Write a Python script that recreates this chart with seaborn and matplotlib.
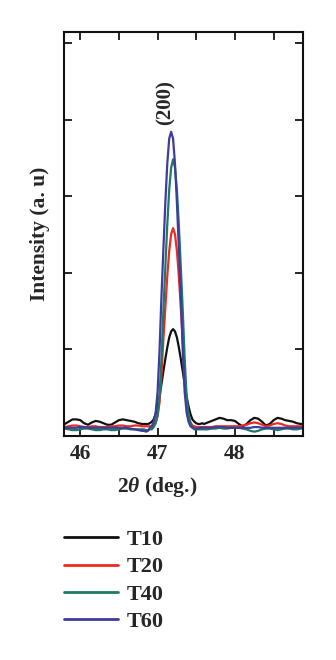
import matplotlib
matplotlib.use("Agg")
import matplotlib.pyplot as plt
from matplotlib.ticker import MultipleLocator, FuncFormatter
import seaborn as sns
import pandas as pd

# 2-theta scan positions (deg.)
two_theta = [
    45.80, 45.85, 45.90, 45.95, 46.00, 46.05, 46.10, 46.15, 46.20, 46.25, 46.30,
    46.35, 46.40, 46.45, 46.50, 46.55, 46.60, 46.65, 46.70, 46.75, 46.80,
    46.825, 46.85, 46.875, 46.90, 46.925, 46.95, 46.975, 47.00, 47.025, 47.05,
    47.075, 47.10, 47.125, 47.15, 47.175, 47.20, 47.225, 47.25, 47.275, 47.30,
    47.325, 47.35, 47.375, 47.40, 47.425, 47.45, 47.475, 47.50, 47.525, 47.55,
    47.575,
    47.60, 47.65, 47.70, 47.75, 47.80, 47.85, 47.90, 47.95, 48.00, 48.05, 48.10,
    48.15, 48.20, 48.25, 48.30, 48.35, 48.40, 48.45, 48.50, 48.55, 48.60, 48.65,
    48.70, 48.75, 48.80, 48.85, 48.90,
]

# Intensity (arbitrary units) for each sample
t10 = [
    0.02, 0.05, 0.08, 0.08, 0.07, 0.03, 0.01, 0.04, 0.06, 0.05, 0.03,
    0.01, 0.01, 0.04, 0.07, 0.08, 0.07, 0.06, 0.05, 0.03, 0.02,
    0.02, 0.02, 0.02, 0.03, 0.05, 0.08, 0.15, 0.25, 0.38, 0.54,
    0.71, 0.87, 1.02, 1.15, 1.23, 1.26, 1.23, 1.15, 1.02, 0.87,
    0.71, 0.54, 0.38, 0.25, 0.15, 0.08, 0.05, 0.03, 0.02, 0.02,
    0.03,
    0.02, 0.04, 0.06, 0.08, 0.10, 0.09, 0.07, 0.07, 0.06, 0.02, -0.01,
    0.02, 0.07, 0.10, 0.09, 0.05, 0.00, 0.02, 0.07, 0.10, 0.09, 0.07,
    0.06, 0.05, 0.03, 0.02, 0.02,
]
t20 = [
    -0.02, -0.01, 0.00, 0.00, -0.01, -0.02, -0.02, -0.01, -0.01, -0.02, -0.02,
    -0.02, -0.01, -0.01, 0.00, 0.00, -0.01, -0.01, 0.00, 0.00, -0.01,
    -0.01, -0.01, -0.01, -0.01, -0.01, 0.00, 0.04, 0.12, 0.30, 0.66,
    1.13, 1.54, 1.95, 2.28, 2.50, 2.58, 2.50, 2.28, 1.95, 1.54,
    1.13, 0.66, 0.30, 0.12, 0.04, 0.00, -0.01, -0.02, -0.02, -0.02,
    -0.02,
    -0.02, -0.02, -0.02, -0.01, -0.01, -0.01, -0.01, -0.01, -0.01, -0.01, 0.00,
    0.01, 0.03, 0.04, 0.03, 0.01, -0.01, 0.00, 0.02, 0.03, 0.02, 0.00,
    -0.01, -0.01, -0.01, -0.01, -0.01,
]
t40 = [
    -0.04, -0.05, -0.06, -0.06, -0.05, -0.04, -0.04, -0.05, -0.06, -0.06, -0.05,
    -0.05, -0.06, -0.06, -0.05, -0.04, -0.04, -0.05, -0.05, -0.05, -0.05,
    -0.05, -0.06, -0.06, -0.05, -0.05, -0.02, 0.03, 0.14, 0.38, 0.88,
    1.51, 2.07, 2.62, 3.08, 3.37, 3.48, 3.37, 3.08, 2.62, 2.07,
    1.51, 0.88, 0.38, 0.14, 0.03, -0.02, -0.05, -0.05, -0.05, -0.05,
    -0.05,
    -0.05, -0.05, -0.04, -0.04, -0.03, -0.04, -0.04, -0.03, -0.03, -0.03, -0.04,
    -0.05, -0.07, -0.08, -0.07, -0.05, -0.04, -0.04, -0.05, -0.06, -0.05, -0.04,
    -0.04, -0.05, -0.05, -0.04, -0.04,
]
t60 = [
    -0.03, -0.03, -0.03, -0.03, -0.02, -0.02, -0.03, -0.03, -0.03, -0.03, -0.03,
    -0.03, -0.03, -0.03, -0.03, -0.03, -0.03, -0.04, -0.05, -0.06, -0.07,
    -0.07, -0.08, -0.07, -0.03, -0.01, 0.05, 0.17, 0.44, 0.98, 1.69,
    2.31, 2.91, 3.42, 3.75, 3.84, 3.75, 3.42, 2.91, 2.31, 1.69,
    0.98, 0.44, 0.17, 0.05, -0.01, -0.03, -0.04, -0.04, -0.04, -0.03,
    -0.03,
    -0.03, -0.03, -0.03, -0.02, -0.02, -0.02, -0.03, -0.03, -0.03, -0.03, -0.03,
    -0.03, -0.03, -0.02, -0.02, -0.03, -0.03, -0.03, -0.03, -0.03, -0.03, -0.03,
    -0.03, -0.03, -0.03, -0.03, -0.03,
]

samples = ["T10", "T20", "T40", "T60"]
colors = {"T10": "#111111", "T20": "#ec2a22", "T40": "#1c7a66", "T60": "#3e3c9c"}
x_ticks = [46, 47, 48]
peak_label = "(200)"

frames = []
for name, vals in zip(samples, [t10, t20, t40, t60]):
    frames.append(pd.DataFrame({"two_theta": two_theta, "intensity": vals, "sample": name}))
df = pd.concat(frames, ignore_index=True)

sns.set_theme(style="ticks")
plt.rcParams["font.family"] = ["Liberation Serif", "DejaVu Serif"]
plt.rcParams["font.weight"] = "bold"
plt.rcParams["mathtext.fontset"] = "custom"
plt.rcParams["mathtext.rm"] = "Liberation Serif:bold"
plt.rcParams["mathtext.it"] = "Liberation Serif:italic:bold"

fig = plt.figure(figsize=(3.36, 6.6), dpi=100)
ax = fig.add_axes([0.1905, 0.3394, 0.7113, 0.6121])

sns.lineplot(data=df, x="two_theta", y="intensity", hue="sample",
             palette=colors, hue_order=samples, estimator=None,
             linewidth=1.6, ax=ax, legend=False)

ax.set_xlim(45.79, 48.88)
ax.set_ylim(-0.137, 5.144)

# ticks every half degree, labels on whole degrees only
ax.xaxis.set_major_locator(MultipleLocator(0.5))
ax.xaxis.set_major_formatter(FuncFormatter(
    lambda v, p: f"{int(round(v))}" if abs(v - round(v)) < 1e-6 and round(v) in x_ticks else ""))
ax.set_yticks([1, 2, 3, 4, 5])
ax.set_yticklabels([])
ax.tick_params(axis="both", direction="in", length=5.5, width=1.4,
               top=True, right=True, labelsize=15.5, pad=6)
for lab in ax.get_xticklabels():
    lab.set_fontweight("bold")
for s in ax.spines.values():
    s.set_linewidth(1.5)
    s.set_color("#111111")

ax.set_xlabel(r"2$\mathit{\theta}$ (deg.)", fontsize=15.5, fontweight="bold")
ax.xaxis.set_label_coords(0.389, -0.097)
ax.set_ylabel("Intensity (a. u)", fontsize=15.5, fontweight="bold")
ax.yaxis.set_label_coords(-0.06, 0.5)

ax.text(47.1, 3.93, peak_label, rotation=90, ha="center", va="bottom",
        fontsize=15, fontweight="bold")

handles = [plt.Line2D([], [], color=colors[s], linewidth=2) for s in samples]
fig.legend(handles, samples, loc="upper left", bbox_to_anchor=(0.13, 0.228),
           frameon=False, handlelength=2.45, handletextpad=0.4,
           labelspacing=0.3, prop={"weight": "bold", "size": 16})

fig.savefig("out.png", dpi=100)
